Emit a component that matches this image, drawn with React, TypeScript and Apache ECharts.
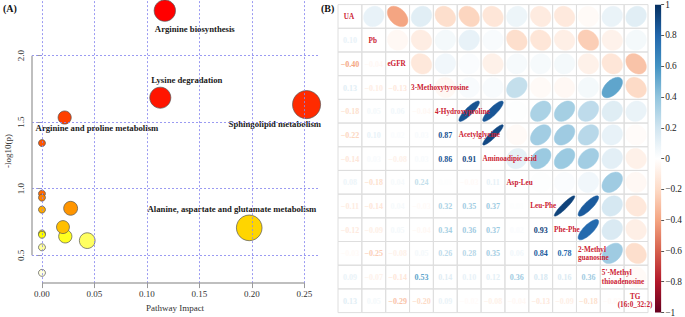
import React, { useEffect, useRef } from "react";
import * as echarts from "echarts";

const SERIF = "'Liberation Serif', 'Times New Roman', Times, serif";

// ---------- Panel A: pathway impact bubble plot ----------
const pathwayNames = [
  "Arginine biosynthesis",
  "Lysine degradation",
  "Sphingolipid metabolism",
  "Arginine and proline metabolism",
  "", "", "", "", "", "",
  "Alanine, aspartate and glutamate metabolism",
  "", "", "", "", "", "",
];
const pathwayImpact = [0.117, 0.1127, 0.252, 0.0216, 0, 0, 0, 0.0273, 0, 0.02, 0.1974, 0, 0, 0.0222, 0.0431, 0, 0];
const pathwayLogP = [2.338, 1.684, 1.632, 1.535, 1.343, 0.963, 0.933, 0.853, 0.843, 0.712, 0.706, 0.664, 0.654, 0.642, 0.61, 0.56, 0.368];
const impactTicks = [0, 0.05, 0.1, 0.15, 0.2, 0.25];
const logPTicks = [0.5, 1, 1.5, 2];

// label placement (pixel offsets from the bubble centre)
const labelOffsets: Record<string, [number, number]> = {
  "Arginine biosynthesis": [30, 18],
  "Lysine degradation": [26.5, -17.6],
  "Sphingolipid metabolism": [-31.7, 19.4],
  "Arginine and proline metabolism": [32.3, 10.7],
  "Alanine, aspartate and glutamate metabolism": [-17.3, -19.3],
};

// ---------- Panel B: correlation matrix ----------
const corrNames = [
  "UA", "Pb", "eGFR", "3-Methoxytyrosine", "4-Hydroxyproline", "Acetylglycine",
  "Aminoadipic acid", "Asp-Leu", "Leu-Phe", "Phe-Phe", "2-Methyl\nguanosine",
  "5'-Methyl\nthioadenosine", "TG\n(16:0_32:2)",
];
const centeredNames = ["UA", "Pb", "eGFR", "TG\n(16:0_32:2)"];
const corrRowPb = [0.1];
const corrRowEGFR = [-0.4, -0.04];
const corrRow3MT = [0.13, -0.1, -0.13];
const corrRow4HP = [-0.18, 0.05, 0.06, -0.04];
const corrRowAcetyl = [-0.22, 0.1, 0.02, 0.03, 0.87];
const corrRowAmino = [-0.14, 0.03, -0.08, 0.03, 0.86, 0.91];
const corrRowAspLeu = [0.08, -0.18, 0.04, 0.24, 0.01, -0.03, 0.11];
const corrRowLeuPhe = [-0.11, -0.14, 0.04, -0.03, 0.32, 0.35, 0.37, 0.01];
const corrRowPhePhe = [-0.12, -0.09, 0.05, -0.04, 0.34, 0.36, 0.37, 0.02, 0.93];
const corrRow2MG = [-0.03, -0.25, -0.08, 0.05, 0.26, 0.28, 0.35, 0.06, 0.84, 0.78];
const corrRowMTA = [0.09, -0.07, -0.14, 0.53, 0.14, 0.1, 0.12, 0.36, 0.18, 0.16, 0.36];
const corrRowTG = [0.13, 0.05, -0.29, -0.2, 0.09, -0.02, -0.08, -0.04, -0.13, -0.09, -0.18, -0.03];
const corrLower = [
  [], corrRowPb, corrRowEGFR, corrRow3MT, corrRow4HP, corrRowAcetyl, corrRowAmino,
  corrRowAspLeu, corrRowLeuPhe, corrRowPhePhe, corrRow2MG, corrRowMTA, corrRowTG,
];

const RdBu = [
  "#67001F", "#B2182B", "#D6604D", "#F4A582", "#FDDBC7", "#FFFFFF",
  "#D1E5F0", "#92C5DE", "#4393C3", "#2166AC", "#053061",
];

function hexToRgb(h: string) {
  return [parseInt(h.slice(1, 3), 16), parseInt(h.slice(3, 5), 16), parseInt(h.slice(5, 7), 16)];
}
function corrColor(r: number) {
  const t = Math.max(0, Math.min(10, ((r + 1) / 2) * 10));
  const i = Math.min(9, Math.floor(t));
  const f = t - i;
  const a = hexToRgb(RdBu[i]);
  const b = hexToRgb(RdBu[i + 1]);
  const c = a.map((v, k) => Math.round(v + (b[k] - v) * f));
  return `rgb(${c[0]},${c[1]},${c[2]})`;
}

// R heat.colors(n)
function heatColors(n: number) {
  const j = Math.floor(n / 4);
  const i = n - j;
  const out: string[] = [];
  for (let k = 0; k < i; k++) {
    const h = i > 1 ? (k / (i - 1)) / 6 : 0;
    out.push(`rgb(255,${Math.round(255 * 6 * h)},0)`);
  }
  for (let k = 0; k < j; k++) {
    const s0 = 1 - 1 / (2 * j);
    const s1 = 1 / (2 * j);
    const s = j > 1 ? s0 + ((s1 - s0) * k) / (j - 1) : s0;
    out.push(`rgb(255,255,${Math.round(255 * (1 - s))})`);
  }
  return out;
}

function fmtCorr(r: number) {
  return (r < 0 ? "\u2212" : "") + Math.abs(r).toFixed(2);
}

export default function App() {
  const ref = useRef<HTMLDivElement>(null);

  useEffect(() => {
    if (!ref.current) return;
    const chart = echarts.init(ref.current, undefined, { renderer: "svg" });

    const xMin = -0.0095, xMax = 0.2629, yMin = 0.291, yMax = 2.418;

    // colours by rank of -log10(p)
    const n = pathwayLogP.length;
    const order = pathwayLogP.map((v, i) => i).sort((a, b) => pathwayLogP[b] - pathwayLogP[a]);
    const heat = heatColors(n);
    const colorOf: string[] = new Array(n);
    order.forEach((idx, rank) => (colorOf[idx] = heat[rank]));

    const bubbleData = pathwayImpact.map((x, i) => {
      const name = pathwayNames[i];
      const off = labelOffsets[name];
      return {
        value: [x, pathwayLogP[i]],
        name,
        symbolSize: 7 + 42 * Math.sqrt(x),
        itemStyle: { color: colorOf[i] },
        label: off
          ? {
              show: true,
              position: "inside",
              offset: off,
              formatter: name,
              color: "#1a1a1a",
              fontFamily: SERIF,
              fontWeight: "bold",
              fontSize: 8.7,
            }
          : { show: false },
      };
    });
    bubbleData.sort((a, b) => b.symbolSize - a.symbolSize);

    const gridLineStyle = { color: "#8a8af0", width: 1, type: [2, 2] as any, opacity: 0.85 };
    const axisLineStyle = { color: "#9a9a9a", width: 1.5, type: "solid" as any };

    const N = corrNames.length;
    const corrAt = (i: number, j: number) => {
      if (i === j) return 1;
      return i > j ? corrLower[i][j] : corrLower[j][i];
    };
    const cells: number[][] = [];
    for (let i = 0; i < N; i++) for (let j = 0; j < N; j++) cells.push([j, i, corrAt(i, j)]);

    // gradient from top (r = 1) to bottom (r = -1), offsets ascending
    const colorStops = RdBu.slice()
      .reverse()
      .map((c, k) => ({ offset: k / 10, color: c }));

    const option: any = {
      animation: false,
      backgroundColor: "#ffffff",
      textStyle: { fontFamily: SERIF },
      grid: [
        { left: 32, top: 0, width: 286, height: 285 },
        { left: 338, top: 4.6, width: 310, height: 308 },
        { left: 655, top: 4.7, width: 11.7, height: 308.3 },
      ],
      xAxis: [
        {
          type: "value",
          gridIndex: 0,
          min: xMin,
          max: xMax,
          axisLine: { show: false },
          splitLine: { show: false },
          axisTick: { show: true, customValues: impactTicks, length: 5, lineStyle: { color: "#9a9a9a" } },
          axisLabel: {
            customValues: impactTicks,
            formatter: (v: number) => v.toFixed(2),
            color: "#333",
            fontFamily: SERIF,
            fontSize: 9,
            margin: 6,
          },
          name: "Pathway Impact",
          nameLocation: "middle",
          nameGap: 19,
          nameTextStyle: { color: "#333", fontFamily: SERIF, fontSize: 9 },
        },
        {
          type: "category",
          gridIndex: 1,
          data: corrNames,
          axisLine: { show: false },
          axisTick: { show: false },
          axisLabel: { show: false },
          splitLine: { show: false },
        },
        {
          type: "category",
          gridIndex: 2,
          data: ["c"],
          show: false,
        },
      ],
      yAxis: [
        {
          type: "value",
          gridIndex: 0,
          min: yMin,
          max: yMax,
          axisLine: { show: false },
          splitLine: { show: false },
          axisTick: { show: true, customValues: logPTicks, length: 5, lineStyle: { color: "#9a9a9a" } },
          axisLabel: {
            customValues: logPTicks,
            formatter: (v: number) => v.toFixed(1),
            rotate: 90,
            color: "#333",
            fontFamily: SERIF,
            fontSize: 9,
            margin: 7,
          },
        },
        {
          type: "category",
          gridIndex: 1,
          data: corrNames,
          inverse: true,
          axisLine: { show: false },
          axisTick: { show: false },
          axisLabel: { show: false },
          splitLine: { show: false },
        },
        {
          type: "value",
          gridIndex: 2,
          min: -1,
          max: 1,
          interval: 0.2,
          position: "right",
          axisLine: { show: false },
          splitLine: { show: false },
          axisTick: { show: true, length: 3, lineStyle: { color: "#555" } },
          axisLabel: {
            margin: 4,
            color: "#222",
            fontFamily: SERIF,
            fontSize: 9.3,
            formatter: (v: number) => {
              const s = parseFloat(v.toFixed(1));
              if (s === 0) return "0";
              return (s < 0 ? "\u2212" : "") + String(Math.abs(s));
            },
          },
        },
      ],
      series: [
        {
          type: "scatter",
          xAxisIndex: 0,
          yAxisIndex: 0,
          data: [],
          z: 1,
          markLine: {
            silent: true,
            symbol: "none",
            label: { show: false },
            lineStyle: gridLineStyle,
            data: [
              ...impactTicks.map((v) => ({ xAxis: v, lineStyle: gridLineStyle })),
              ...logPTicks.map((v) => ({ yAxis: v, lineStyle: gridLineStyle })),
              [
                { coord: [xMin, logPTicks[0]], lineStyle: axisLineStyle },
                { coord: [xMin, logPTicks[logPTicks.length - 1]], lineStyle: axisLineStyle },
              ],
              [
                { coord: [impactTicks[0], yMin], lineStyle: axisLineStyle },
                { coord: [impactTicks[impactTicks.length - 1], yMin], lineStyle: axisLineStyle },
              ],
            ],
          },
        },
        {
          type: "scatter",
          xAxisIndex: 0,
          yAxisIndex: 0,
          z: 3,
          itemStyle: { borderColor: "#555", borderWidth: 0.7, opacity: 1 },
          data: bubbleData,
        },
        {
          type: "custom",
          xAxisIndex: 1,
          yAxisIndex: 1,
          data: cells,
          renderItem: (params: any, api: any) => {
            const j = api.value(0);
            const i = api.value(1);
            const r = api.value(2);
            const c = api.coord([j, i]);
            const sz = api.size([1, 1]);
            const w = sz[0];
            const h = sz[1];
            const children: any[] = [
              {
                type: "rect",
                z2: 0,
                shape: { x: c[0] - w / 2, y: c[1] - h / 2, width: w, height: h },
                style: { fill: "rgba(0,0,0,0)", stroke: "#dedede", lineWidth: 1 },
              },
            ];
            if (i === j) {
              const name = corrNames[i];
              const centered = centeredNames.indexOf(name) >= 0;
              children.push({
                type: "text",
                z2: 10,
                x: centered ? c[0] - 1 : c[0] - w / 2 + 1.5,
                y: c[1] + 0.5,
                style: {
                  text: name,
                  fill: "#cc2233",
                  fontFamily: SERIF,
                  fontWeight: "bold",
                  fontSize: 7.2,
                  lineHeight: 8.2,
                  align: centered ? "center" : "left",
                  verticalAlign: "middle",
                },
              });
            } else if (i > j) {
              children.push({
                type: "text",
                z2: 2,
                x: c[0],
                y: c[1] + 0.5,
                style: {
                  text: fmtCorr(r),
                  fill: corrColor(r),
                  fontFamily: SERIF,
                  fontWeight: "bold",
                  fontSize: 8,
                  align: "center",
                  verticalAlign: "middle",
                },
              });
            } else {
              const d = Math.acos(Math.max(-1, Math.min(1, r)));
              const sx = 0.5 * 0.86 * w;
              const sy = 0.5 * 0.86 * h;
              const pts: number[][] = [];
              const M = 60;
              for (let k = 0; k < M; k++) {
                const t = (k / M) * Math.PI * 2;
                pts.push([c[0] + sx * Math.cos(t + d / 2), c[1] - sy * Math.cos(t - d / 2)]);
              }
              const col = corrColor(r);
              children.push({
                type: "polygon",
                z2: 5,
                shape: { points: pts },
                style: { fill: col, stroke: col, lineWidth: 0.5 },
              });
            }
            return { type: "group", children };
          },
        },
        {
          type: "custom",
          xAxisIndex: 2,
          yAxisIndex: 2,
          data: [[0, 0]],
          renderItem: (params: any) => {
            const cs = params.coordSys;
            return {
              type: "rect",
              shape: { x: cs.x, y: cs.y, width: cs.width, height: cs.height },
              style: {
                fill: new echarts.graphic.LinearGradient(0, 0, 0, 1, colorStops),
              },
            };
          },
        },
      ],
      graphic: [
        {
          type: "text",
          left: 3,
          top: 3,
          style: { text: "(A)", fill: "#111", fontFamily: SERIF, fontWeight: "bold", fontSize: 10 },
        },
        {
          type: "text",
          left: 321,
          top: 3,
          style: { text: "(B)", fill: "#111", fontFamily: SERIF, fontWeight: "bold", fontSize: 10 },
        },
        {
          type: "text",
          x: 8,
          y: 151,
          rotation: Math.PI / 2,
          style: {
            text: "-log10(p)",
            fill: "#333",
            fontFamily: SERIF,
            fontSize: 9,
            align: "center",
            verticalAlign: "middle",
          },
        },
      ],
    };

    chart.setOption(option);
    return () => chart.dispose();
  }, []);

  return (
    <div
      ref={ref}
      style={{ position: "fixed", left: 0, top: 0, width: 685, height: 317, background: "#fff" }}
    />
  );
}
